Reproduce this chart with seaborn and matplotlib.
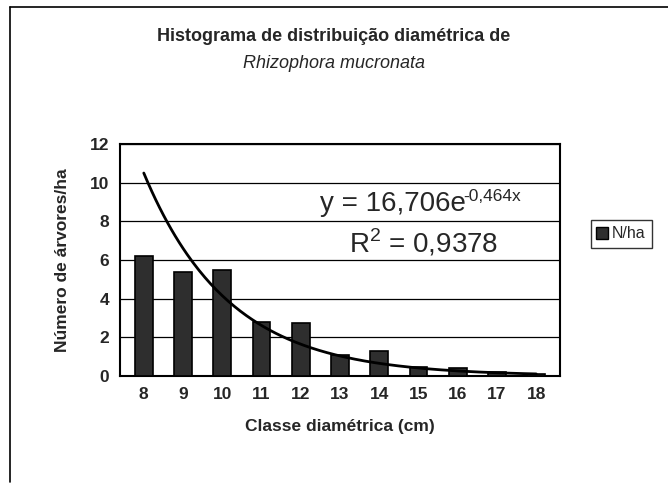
import numpy as np
import pandas as pd
import matplotlib.pyplot as plt
import seaborn as sns
from matplotlib.lines import Line2D

# diameter classes and trees per hectare
classes = [8, 9, 10, 11, 12, 13, 14, 15, 16, 17, 18]
n_ha = [6.2, 5.4, 5.5, 2.8, 2.75, 1.1, 1.3, 0.45, 0.4, 0.2, 0.1]
# exponential trendline shown on the chart
trend_a = 16.706
trend_b = -0.464

df = pd.DataFrame({'Classe': classes, 'N/ha': n_ha})

sns.set_style("white")
plt.rcParams['font.family'] = ['Liberation Sans', 'DejaVu Sans']

fig = plt.figure(figsize=(6.68, 4.92), dpi=100)
ax = fig.add_axes([0.18, 0.236, 0.658, 0.471])

sns.barplot(data=df, x='Classe', y='N/ha', color='#2e2e2e', width=0.45,
            edgecolor='black', linewidth=1.2, ax=ax, zorder=3)

# trendline y = a*e^(b*x), x = category number starting at 1
xs = np.linspace(0, len(classes) - 1, 200)
ax.plot(xs, trend_a * np.exp(trend_b * (xs + 1)), color='black', lw=2, zorder=4)

ax.set_ylim(0, 12)
ax.set_xlim(-0.6, len(classes) - 0.4)
ax.set_yticks(range(0, 13, 2))
ax.yaxis.grid(True, color='black', lw=0.9)
ax.set_axisbelow(True)
for s in ax.spines.values():
    s.set_color('black')
    s.set_linewidth(1.5)
ax.tick_params(axis='both', labelsize=12.5, length=0, pad=8)
for lab in ax.get_xticklabels() + ax.get_yticklabels():
    lab.set_fontweight('bold')

ax.set_xlabel('Classe diamétrica (cm)', fontsize=12.5, fontweight='bold', labelpad=12)
ax.set_ylabel('Número de árvores/ha', fontsize=12.5, fontweight='bold', labelpad=14)

eq = ax.text(4.5, 8.9, 'y = 16,706e', fontsize=20, ha='left', va='center', zorder=5)
ax.annotate('-0,464x', xy=(1, 0.78), xycoords=eq, xytext=(-2, 0), textcoords='offset points',
            fontsize=12.5, ha='left', va='center', zorder=5)
ax.text(5.22, 6.9, 'R$^{\\mathregular{2}}$ = 0,9378', fontsize=20,
        ha='left', va='center', zorder=5)

fig.text(0.5, 0.925, 'Histograma de distribuição diamétrica de', ha='center', va='center',
         fontsize=13, fontweight='bold')
fig.text(0.5, 0.87, 'Rhizophora mucronata', ha='center', va='center',
         fontsize=13, style='italic')

handle = Line2D([], [], marker='s', color='none', markerfacecolor='#2e2e2e',
                markeredgecolor='black', markersize=8)
fig.legend([handle], ['N/ha'], loc='center', bbox_to_anchor=(0.93, 0.525),
           frameon=True, fancybox=False, edgecolor='black', fontsize=11.5,
           handlelength=0.6, handletextpad=0.3, borderpad=0.4)

# outer chart frame (top and left visible in the scan)
fig.add_artist(Line2D([0.015, 1.0], [0.985, 0.985], color='black', lw=1.2))
fig.add_artist(Line2D([0.015, 0.015], [0.02, 0.985], color='black', lw=1.2))

fig.savefig('out.png', dpi=100)
